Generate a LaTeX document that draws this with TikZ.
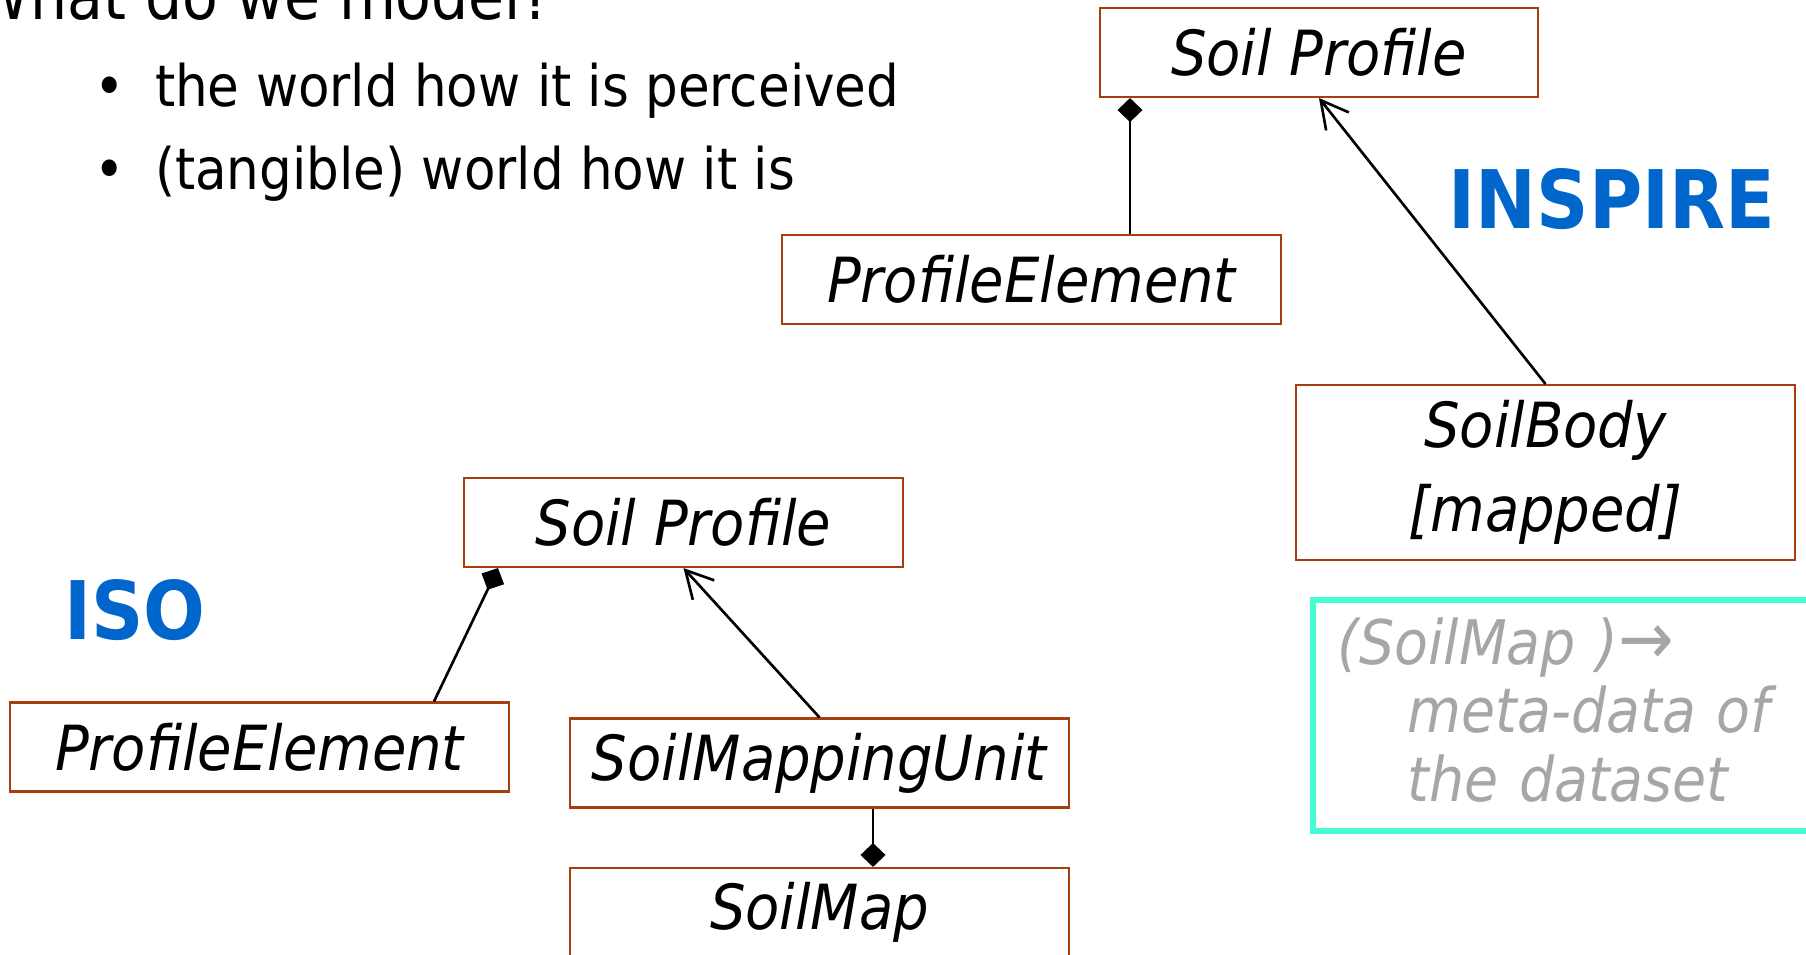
\documentclass[tikz,border=0pt]{standalone}
\usepackage{fontspec}
\setmainfont{DejaVu Sans Condensed}
\usetikzlibrary{arrows.meta}
\definecolor{boxbrown}{RGB}{166,62,14}
\definecolor{noteaqua}{RGB}{70,252,210}
\definecolor{labelblue}{RGB}{0,102,204}
\definecolor{notegray}{RGB}{166,166,166}
\tikzset{
	bodytext/.style={inner sep=0pt, font=\fontsize{16.3}{20}\selectfont},
	umlclass/.style={draw=boxbrown, line width=0.6pt, inner sep=0pt, minimum width=4.99cm, minimum height=0.89cm, font=\itshape\fontsize{17.7}{24}\selectfont},
	notebox/.style={draw=noteaqua, line width=1.6pt, inner xsep=0.25cm, inner ysep=0pt, text width=4.70cm, minimum height=2.31cm, align=left, text=notegray, font=\itshape\fontsize{17.5}{19.5}\selectfont},
	grouplabel/.style={inner sep=0pt, text=labelblue, font=\bfseries\fontsize{23}{26}\selectfont},
	compo/.style={line width=0.75pt, -{Diamond[length=2.4mm,width=2.5mm]}},
	inherit/.style={line width=0.75pt, -{Straight Barb[length=2.7mm,width=2.9mm]}}
}

\begin{document}
\begin{tikzpicture}
		%%%%% START %%%%%
		\useasboundingbox (0,0) rectangle (18.06,-9.55);
		
		\node[bodytext, anchor=base east, font=\fontsize{18.5}{22}\selectfont] (title) at (5.53,-0.19) {What do we model?};
		\node[bodytext, anchor=base west] (item1) at (0.94,-1.06) {•\hspace{0.30cm}the world how it is perceived};
		\node[bodytext, anchor=base west] (item2) at (0.94,-1.89) {•\hspace{0.30cm}(tangible) world how it is};
		
		% INSPIRE side
		\node[grouplabel] (inspire) at (16.12,-1.99) {INSPIRE};
		\node[umlclass, minimum width=4.38cm] (SPi) at (13.19,-0.525) {Soil Profile};
		\node[umlclass] (PEi) at (10.315,-2.795) {ProfileElement};
		\node[umlclass, minimum height=1.75cm, align=center] (SB) at (15.455,-4.725) {SoilBody\\{[mapped]}};
		\node[notebox, anchor=north west] (note) at (13.10,-5.97) {(SoilMap ){\fontsize{21}{19.5}\selectfont →}\\\hspace*{0.70cm}meta-data of\\\hspace*{0.70cm}the dataset\rule[-0.12cm]{0pt}{0.12cm}};
		
		\draw[compo] ([xshift=0.985cm]PEi.north) -- ([xshift=0.985cm]PEi.north |- SPi.south);
		\draw[inherit] (SB.north) -- (SPi.south);
		
		% ISO side
		\node[grouplabel] (iso) at (1.35,-6.10) {ISO};
		\node[umlclass, minimum width=4.39cm] (SPo) at (6.835,-5.225) {Soil Profile};
		\node[umlclass] (PEo) at (2.595,-7.47) {ProfileElement};
		\node[umlclass] (SMU) at (8.195,-7.63) {SoilMappingUnit};
		\node[umlclass] (SM) at (8.195,-9.125) {SoilMap};
		
		\draw[compo] ([xshift=1.745cm]PEo.north) -- ([xshift=-1.855cm]SPo.south);
		\draw[inherit] (SMU.north) -- (SPo.south);
		\draw[compo] ([xshift=0.535cm]SMU.south) -- ([xshift=0.535cm]SM.north);
		
		%%%%% END %%%%%
	\end{tikzpicture}
\end{document}
